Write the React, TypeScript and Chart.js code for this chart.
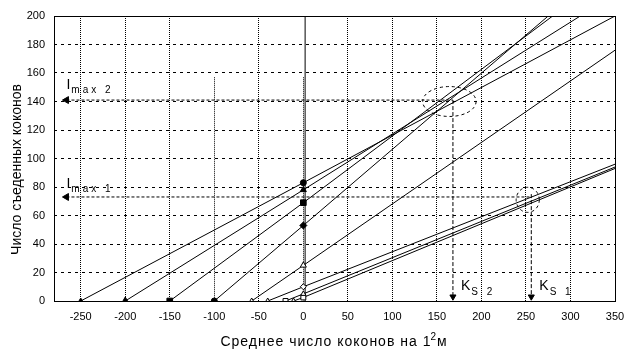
import React, { useEffect, useRef } from "react";
import { Chart, registerables } from "chart.js";

Chart.register(...registerables);

// ---- axes ----
const xTickValues = [-250, -200, -150, -100, -50, 0, 50, 100, 150, 200, 250, 300, 350];
const yTickValues = [0, 20, 40, 60, 80, 100, 120, 140, 160, 180, 200];
const xRange = [-280, 350];
const yRange = [0, 200];

// ---- lines: marker on x-axis, marker on x=0, end of line ----
const line1X = [-250, 0, 350];
const line1Y = [0, 83, 200];
const line2X = [-200, 0, 311];
const line2Y = [0, 78, 200];
const line3X = [-150, 0, 280];
const line3Y = [0, 69, 200];
const line4X = [-100, 0, 275];
const line4Y = [0, 53, 200];
const line5X = [-58, 0, 350];
const line5Y = [0, 25, 176];
const line6X = [-40, 0, 350];
const line6Y = [0, 10, 96];
const line7X = [-20, 0, 350];
const line7Y = [0, 5, 94];
const line8X = [-11, 0, 350];
const line8Y = [0, 2.5, 93];

// ---- reference elements ----
const axisLineX = [2, 2];
const axisLineY = [0, 200];
const partialGridX = [-100, 0];
const partialGridTop = 157;

const imax2X = [-266, 168];
const imax2Y = [141, 141];
const imax1X = [-266, 254];
const imax1Y = [73, 73];
const ks2X = [168, 168];
const ks2Y = [141, 3];
const ks1X = [256, 256];
const ks1Y = [75, 3];

// ellipses: centre x, centre y, half-width, half-height (data units)
const ellipse1 = [164, 140, 30, 10.5];
const ellipse2 = [252, 71, 13, 8.8];

// labels: main, subscript, anchor x, anchor y (data units)
const labelImax2 = ["I", "max 2", -266, 149];
const labelImax1 = ["I", "max 1", -266, 79];
const labelKs2 = ["K", "S 2", 177, 7.7];
const labelKs1 = ["K", "S 1", 265, 7.7];

const yTitle = "Число съеденных коконов";
const xTitleMain = "Среднее число коконов на 1";
const xTitleSup = "2";
const xTitleEnd = "м";

const FONT = '"Liberation Sans", Arial, sans-serif';

const pts = (xs: number[], ys: number[]) => xs.map((x, i) => ({ x, y: ys[i] }));

const seriesLine = (
  xs: number[],
  ys: number[],
  styles: string[],
  filled: boolean[],
  radii: number[]
) => ({
  data: pts(xs, ys),
  showLine: true,
  borderColor: "#000",
  borderWidth: 1,
  tension: 0,
  pointStyle: [...styles, "circle"],
  pointRadius: [...radii, 0],
  pointBackgroundColor: [...filled.map((f) => (f ? "#000" : "#fff")), "#000"],
  pointBorderColor: "#000",
  pointBorderWidth: 1,
});

const dashedLine = (xs: number[], ys: number[], dash: number[], arrowIndex: number, rotation: number, r: number) => ({
  data: pts(xs, ys),
  showLine: true,
  borderColor: "#000",
  borderWidth: 1,
  borderDash: dash,
  pointStyle: "triangle",
  pointRadius: xs.map((_, i) => (i === arrowIndex ? r : 0)),
  pointRotation: rotation,
  pointBackgroundColor: "#000",
  pointBorderColor: "#000",
  pointBorderWidth: 1,
});

const align = (p: number) => Math.round(p - 0.5) + 0.5;

const drawSubLabel = (ctx: CanvasRenderingContext2D, lab: any[], xs: any, ys: any, mainSize: number, subSize: number, subDrop: number) => {
  const px = xs.getPixelForValue(lab[2]);
  const py = ys.getPixelForValue(lab[3]);
  ctx.font = `${mainSize}px ${FONT}`;
  (ctx as any).letterSpacing = "0px";
  ctx.textAlign = "left";
  ctx.textBaseline = "alphabetic";
  ctx.fillText(lab[0], px, py);
  const w = ctx.measureText(lab[0]).width;
  ctx.font = `${subSize}px ${FONT}`;
  (ctx as any).letterSpacing = "3px";
  ctx.fillText(lab[1], px + w + 1, py + subDrop);
  (ctx as any).letterSpacing = "0px";
};

const overlay = {
  id: "overlay",
  beforeDatasetsDraw(chart: any) {
    const { ctx, chartArea, scales } = chart;
    const { x, y } = scales;
    ctx.save();
    ctx.strokeStyle = "#000";
    ctx.lineWidth = 1;
    ctx.setLineDash([1, 1]);
    partialGridX.forEach((v) => {
      const px = align(x.getPixelForValue(v));
      ctx.beginPath();
      ctx.moveTo(px, y.getPixelForValue(partialGridTop));
      ctx.lineTo(px, chartArea.bottom);
      ctx.stroke();
    });
    ctx.restore();
  },
  afterDraw(chart: any) {
    const { ctx, chartArea, scales } = chart;
    const { x, y } = scales;
    ctx.save();
    // frame
    ctx.strokeStyle = "#000";
    ctx.lineWidth = 1;
    ctx.setLineDash([]);
    const l = align(chartArea.left), r = align(chartArea.right), t = align(chartArea.top), b = align(chartArea.bottom);
    ctx.strokeRect(l, t, r - l, b - t);
    // ellipses
    ctx.setLineDash([3, 3]);
    [ellipse1, ellipse2].forEach((e) => {
      const cx = x.getPixelForValue(e[0]);
      const cy = y.getPixelForValue(e[1]);
      const rx = Math.abs(x.getPixelForValue(e[0] + e[2]) - cx);
      const ry = Math.abs(y.getPixelForValue(e[1] + e[3]) - cy);
      ctx.beginPath();
      ctx.ellipse(cx, cy, rx, ry, 0, 0, Math.PI * 2);
      ctx.stroke();
    });
    ctx.setLineDash([]);
    ctx.fillStyle = "#000";
    drawSubLabel(ctx, labelImax2, x, y, 14, 10, 4);
    drawSubLabel(ctx, labelImax1, x, y, 14, 10, 4);
    drawSubLabel(ctx, labelKs2, x, y, 14, 10, 5);
    drawSubLabel(ctx, labelKs1, x, y, 14, 10, 5);

    // x title
    ctx.font = `14px ${FONT}`;
    (ctx as any).letterSpacing = "1px";
    ctx.textBaseline = "alphabetic";
    ctx.textAlign = "left";
    const w1 = ctx.measureText(xTitleMain).width;
    ctx.font = `10px ${FONT}`;
    const w2 = ctx.measureText(xTitleSup).width;
    ctx.font = `14px ${FONT}`;
    const w3 = ctx.measureText(xTitleEnd).width;
    const total = w1 + w2 + w3;
    const cxTitle = (chartArea.left + chartArea.right) / 2;
    let sx = cxTitle - total / 2;
    const base = 346;
    ctx.fillText(xTitleMain, sx, base);
    sx += w1;
    ctx.font = `10px ${FONT}`;
    ctx.fillText(xTitleSup, sx - 1, base - 6);
    sx += w2 - 1;
    ctx.font = `14px ${FONT}`;
    ctx.fillText(xTitleEnd, sx, base);

    // y title
    ctx.save();
    ctx.translate(17, (chartArea.top + chartArea.bottom) / 2 + 11);
    ctx.rotate(-Math.PI / 2);
    ctx.textAlign = "center";
    ctx.textBaseline = "middle";
    (ctx as any).letterSpacing = "0px";
    ctx.fillText(yTitle, 0, 0);
    ctx.restore();
    (ctx as any).letterSpacing = "0px";
    ctx.restore();
  },
};

const App = () => {
  const ref = useRef<HTMLCanvasElement>(null);
  useEffect(() => {
    const datasets: any[] = [
      seriesLine(line1X, line1Y, ["triangle", "circle"], [true, true], [3, 3]),
      seriesLine(line2X, line2Y, ["triangle", "triangle"], [true, true], [4, 3.5]),
      seriesLine(line3X, line3Y, ["rect", "rect"], [true, true], [4, 4]),
      seriesLine(line4X, line4Y, ["circle", "rectRot"], [true, true], [3, 3.5]),
      seriesLine(line5X, line5Y, ["triangle", "triangle"], [false, false], [3, 3.5]),
      seriesLine(line6X, line6Y, ["triangle", "rectRot"], [false, false], [3, 3]),
      seriesLine(line7X, line7Y, ["rect", "triangle"], [false, false], [3.5, 3]),
      seriesLine(line8X, line8Y, ["triangle", "rect"], [false, false], [3, 3.5]),
      {
        data: pts(axisLineX, axisLineY),
        showLine: true,
        borderColor: "#000",
        borderWidth: 1,
        pointRadius: 0,
      },
      dashedLine(imax2X, imax2Y, [3, 2], 0, 270, 4),
      dashedLine(imax1X, imax1Y, [3, 2], 0, 270, 4),
      dashedLine(ks2X, ks2Y, [4, 2], 1, 180, 3.5),
      dashedLine(ks1X, ks1Y, [4, 2], 1, 180, 3.5),
    ];
    const chart = new Chart(ref.current as HTMLCanvasElement, {
      type: "scatter",
      data: { datasets },
      options: {
        responsive: true,
        maintainAspectRatio: false,
        animation: false,
        layout: { padding: { top: 16, right: 22, left: 0, bottom: 0 } },
        plugins: { legend: { display: false }, tooltip: { enabled: false } },
        scales: {
          x: {
            type: "linear",
            min: xRange[0],
            max: xRange[1],
            afterBuildTicks: (s: any) => {
              s.ticks = xTickValues.map((v) => ({ value: v }));
            },
            afterFit: (s: any) => {
              s.height = 54;
            },
            grid: {
              color: (c: any) =>
                c.tick && partialGridX.includes(c.tick.value) ? "rgba(0,0,0,0)" : "#000",
              lineWidth: 1,
              drawTicks: false,
            },
            border: { display: false, dash: [1, 1] },
            ticks: {
              color: "#000",
              font: { family: FONT, size: 11 },
              padding: 9,
              maxRotation: 0,
              autoSkip: false,
            },
          },
          y: {
            type: "linear",
            min: yRange[0],
            max: yRange[1],
            afterBuildTicks: (s: any) => {
              s.ticks = yTickValues.map((v) => ({ value: v }));
            },
            afterFit: (s: any) => {
              s.width = 54;
            },
            grid: { color: "#000", lineWidth: 1, drawTicks: false },
            border: { display: false, dash: [3, 4] },
            ticks: {
              color: "#000",
              font: { family: FONT, size: 11 },
              padding: 9,
              autoSkip: false,
            },
          },
        },
      } as any,
      plugins: [overlay],
    });
    return () => chart.destroy();
  }, []);
  return (
    <div style={{ position: "absolute", left: 0, top: 0, width: 637, height: 355, background: "#fff" }}>
      <canvas ref={ref} />
    </div>
  );
};

export default App;
